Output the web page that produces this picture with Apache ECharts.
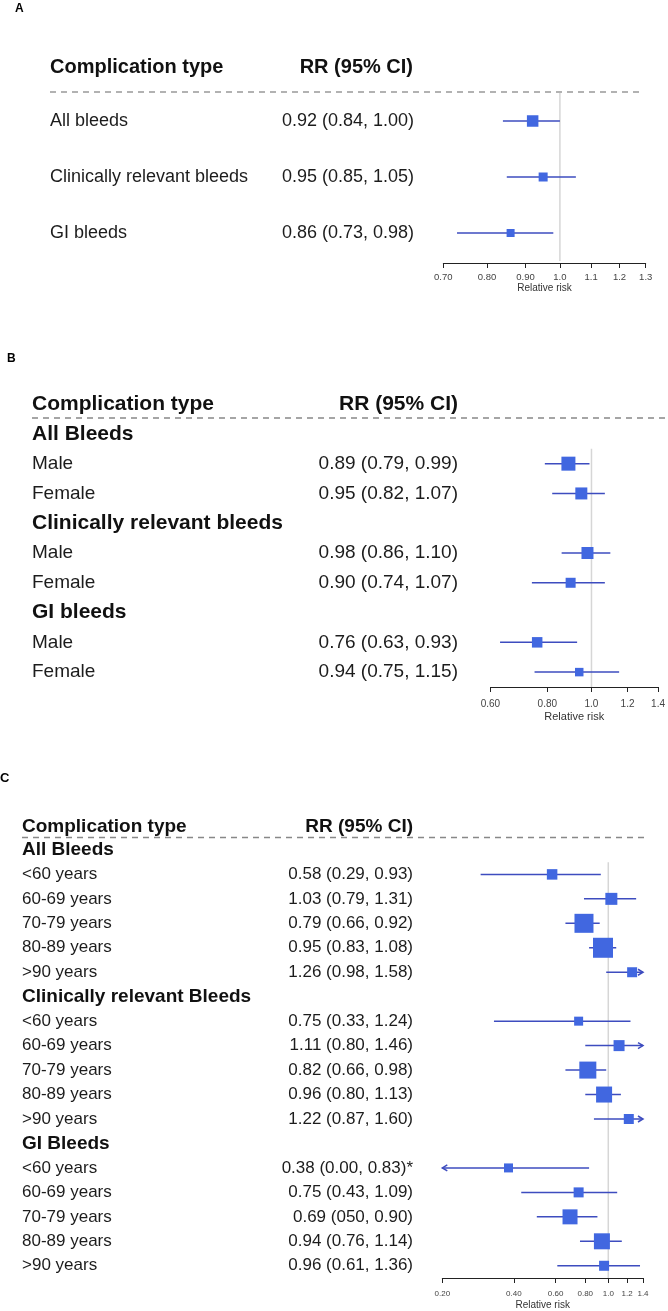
<!DOCTYPE html>
<html>
<head>
<meta charset="utf-8">
<script src="https://cdn.jsdelivr.net/npm/echarts@6/dist/echarts.min.js"></script>
<style>
html,body{margin:0;padding:0;background:#fff;}
#chart{width:668px;height:1311px;}
</style>
</head>
<body>
<div id="chart"></div>
<script>
// ---------------- Panel A ----------------
const aLabels = ['All bleeds', 'Clinically relevant bleeds', 'GI bleeds'];
const aHeader = [false, false, false];
const aText = ['0.92 (0.84, 1.00)', '0.95 (0.85, 1.05)', '0.86 (0.73, 0.98)'];
const aRR = [0.92, 0.95, 0.86];
const aLow = [0.84, 0.85, 0.73];
const aHigh = [1.00, 1.05, 0.98];
const aWeight = [11.5, 9, 8];
const aTicks = [0.7, 0.8, 0.9, 1.0, 1.1, 1.2, 1.3];
const aTickLabels = ['0.70', '0.80', '0.90', '1.0', '1.1', '1.2', '1.3'];

// ---------------- Panel B ----------------
const bLabels = ['All Bleeds', 'Male', 'Female', 'Clinically relevant bleeds', 'Male', 'Female', 'GI bleeds', 'Male', 'Female'];
const bHeader = [true, false, false, true, false, false, true, false, false];
const bText = ['', '0.89 (0.79, 0.99)', '0.95 (0.82, 1.07)', '', '0.98 (0.86, 1.10)', '0.90 (0.74, 1.07)', '', '0.76 (0.63, 0.93)', '0.94 (0.75, 1.15)'];
const bRR = [null, 0.89, 0.95, null, 0.98, 0.90, null, 0.76, 0.94];
const bLow = [null, 0.79, 0.82, null, 0.86, 0.74, null, 0.63, 0.75];
const bHigh = [null, 0.99, 1.07, null, 1.10, 1.07, null, 0.93, 1.15];
const bWeight = [null, 14, 12, null, 12, 10, null, 10.5, 8.5];
const bTicks = [0.6, 0.8, 1.0, 1.2, 1.4];
const bTickLabels = ['0.60', '0.80', '1.0', '1.2', '1.4'];

// ---------------- Panel C ----------------
const cLabels = ['All Bleeds', '<60 years', '60-69 years', '70-79 years', '80-89 years', '>90 years',
  'Clinically relevant Bleeds', '<60 years', '60-69 years', '70-79 years', '80-89 years', '>90 years',
  'GI Bleeds', '<60 years', '60-69 years', '70-79 years', '80-89 years', '>90 years'];
const cHeader = [true, false, false, false, false, false, true, false, false, false, false, false, true, false, false, false, false, false];
const cText = ['', '0.58 (0.29, 0.93)', '1.03 (0.79, 1.31)', '0.79 (0.66, 0.92)', '0.95 (0.83, 1.08)', '1.26 (0.98, 1.58)',
  '', '0.75 (0.33, 1.24)', '1.11 (0.80, 1.46)', '0.82 (0.66, 0.98)', '0.96 (0.80, 1.13)', '1.22 (0.87, 1.60)',
  '', '0.38 (0.00, 0.83)*', '0.75 (0.43, 1.09)', '0.69 (050, 0.90)', '0.94 (0.76, 1.14)', '0.96 (0.61, 1.36)'];
const cRR = [null, 0.58, 1.03, 0.79, 0.95, 1.26, null, 0.75, 1.11, 0.82, 0.96, 1.22, null, 0.38, 0.75, 0.69, 0.94, 0.96];
const cLow = [null, 0.29, 0.79, 0.66, 0.83, 0.98, null, 0.33, 0.80, 0.66, 0.80, 0.87, null, 0.00, 0.43, 0.50, 0.76, 0.61];
const cHigh = [null, 0.93, 1.31, 0.92, 1.08, 1.58, null, 1.24, 1.46, 0.98, 1.13, 1.60, null, 0.83, 1.09, 0.90, 1.14, 1.36];
const cWeight = [null, 10.5, 12, 19, 20, 10, null, 9, 11, 17, 16, 10, null, 9, 10, 15, 16, 10];
const cTicks = [0.2, 0.4, 0.6, 0.8, 1.0, 1.2, 1.4];
const cTickLabels = ['0.20', '0.40', '0.60', '0.80', '1.0', '1.2', '1.4'];

const headerTitles = ['Complication type', 'RR (95% CI)'];
const panelLetters = ['A', 'B', 'C'];

// ---------------- styling / layout ----------------
const FONT = '"Liberation Sans", Arial, Helvetica, sans-serif';
const LINE_COLOR = '#3d4cbf';
const MARK_COLOR = '#4167e0';
const REF_COLOR = '#d6d6d6';
const TEXT_COLOR = '#1c1c1c';

const panels = [
  { labels: aLabels, header: aHeader, text: aText, rr: aRR, lo: aLow, hi: aHigh, w: aWeight,
    ticks: aTicks, tickLabels: aTickLabels, min: 0.7, max: 1.3,
    grid: { left: 443.3, top: 93, width: 202.4, height: 168 }, axisOffset: 2,
    labelX: 50, rrRight: 414, rowFont: 18, headFont: 20,
    tickFont: 9.5, tickMargin: 9, nameFont: 10, nameGap: 18, refStart: -0.5 },
  { labels: bLabels, header: bHeader, text: bText, rr: bRR, lo: bLow, hi: bHigh, w: bWeight,
    ticks: bTicks, tickLabels: bTickLabels, min: 0.6, max: 1.4,
    grid: { left: 490.4, top: 419, width: 169.6, height: 268 }, axisOffset: 0,
    labelX: 32, rrRight: 458, rowFont: 19, headFont: 21,
    tickFont: 10, tickMargin: 12, nameFont: 11, nameGap: 24, refStart: 0.5 },
  { labels: cLabels, header: cHeader, text: cText, rr: cRR, lo: cLow, hi: cHigh, w: cWeight,
    ticks: cTicks, tickLabels: cTickLabels, min: 0.2, max: 1.4,
    grid: { left: 442.3, top: 837.7, width: 200.7, height: 441.3 }, axisOffset: 0,
    labelX: 22, rrRight: 413, rowFont: 17, headFont: 19,
    tickFont: 8, tickMargin: 12, nameFont: 10, nameGap: 22, refStart: 0.5 }
];

const grids = [], xAxes = [], yAxes = [], series = [];

function forestRenderer(axisMin, axisMax) {
  return function (params, api) {
    const row = api.value(0), est = api.value(1), lo = api.value(2), hi = api.value(3), w = api.value(4);
    const loC = Math.max(lo, axisMin), hiC = Math.min(hi, axisMax);
    const pLo = api.coord([loC, row]);
    const pHi = api.coord([hiC, row]);
    const pE = api.coord([est, row]);
    const lineStyle = { stroke: LINE_COLOR, lineWidth: 1.5, fill: null };
    const children = [{
      type: 'line', shape: { x1: pLo[0], y1: pLo[1], x2: pHi[0], y2: pHi[1] }, style: lineStyle
    }];
    if (lo < axisMin) {
      children.push({ type: 'polyline', shape: { points: [[pLo[0] + 5, pLo[1] - 3], [pLo[0], pLo[1]], [pLo[0] + 5, pLo[1] + 3]] }, style: lineStyle });
    }
    if (hi > axisMax) {
      children.push({ type: 'polyline', shape: { points: [[pHi[0] - 5, pHi[1] - 3], [pHi[0], pHi[1]], [pHi[0] - 5, pHi[1] + 3]] }, style: lineStyle });
    }
    children.push({
      type: 'rect', shape: { x: pE[0] - w / 2, y: pE[1] - w / 2, width: w, height: w },
      style: { fill: MARK_COLOR }
    });
    return { type: 'group', children: children };
  };
}

panels.forEach(function (p, i) {
  const n = p.labels.length;
  grids.push({ left: p.grid.left, top: p.grid.top, width: p.grid.width, height: p.grid.height, containLabel: false });
  xAxes.push({
    type: 'log', logBase: 10, gridIndex: i, min: p.min, max: p.max, offset: p.axisOffset,
    axisLine: { show: true, onZero: false, lineStyle: { color: '#222', width: 1 } },
    axisTick: { show: true, customValues: p.ticks, length: 5, lineStyle: { color: '#222', width: 1 } },
    axisLabel: {
      customValues: p.ticks, fontSize: p.tickFont, color: '#444', fontFamily: FONT, margin: p.tickMargin,
      formatter: function (v) {
        const k = p.ticks.findIndex(function (t) { return Math.abs(t - v) < 1e-6; });
        return k >= 0 ? p.tickLabels[k] : '';
      }
    },
    splitLine: { show: false },
    minorTick: { show: false },
    name: 'Relative risk', nameLocation: 'middle', nameGap: p.nameGap,
    nameTextStyle: { fontSize: p.nameFont, color: '#333', fontFamily: FONT }
  });
  const rich = {
    h: { fontSize: p.headFont, fontWeight: 'bold', color: '#111', fontFamily: FONT },
    r: { fontSize: p.rowFont, color: TEXT_COLOR, fontFamily: FONT }
  };
  // row names column
  yAxes.push({
    type: 'category', gridIndex: i, inverse: true, data: p.labels, position: 'left',
    axisLine: { show: false }, axisTick: { show: false }, splitLine: { show: false },
    axisLabel: {
      interval: 0, align: 'left', margin: p.grid.left - p.labelX, rich: rich,
      formatter: function (v, idx) { return (p.header[idx] ? '{h|' : '{r|') + p.labels[idx] + '}'; }
    }
  });
  // RR (95% CI) column
  yAxes.push({
    type: 'category', gridIndex: i, inverse: true, data: p.text, position: 'left',
    axisLine: { show: false }, axisTick: { show: false }, splitLine: { show: false },
    axisLabel: {
      interval: 0, align: 'right', margin: p.grid.left - p.rrRight, rich: rich,
      formatter: function (v, idx) { return p.text[idx] ? '{r|' + p.text[idx] + '}' : ''; }
    }
  });
  // row position axis for marks
  yAxes.push({
    type: 'value', gridIndex: i, inverse: true, min: -0.5, max: n - 0.5, show: false,
    axisLine: { onZero: false }, splitLine: { show: false }
  });

  const data = [];
  for (let r = 0; r < n; r++) {
    if (p.rr[r] !== null) data.push([r, p.rr[r], p.lo[r], p.hi[r], p.w[r]]);
  }
  series.push({
    type: 'line', xAxisIndex: i, yAxisIndex: 3 * i + 2, silent: true, symbol: 'none', z: 1,
    data: [[1.0, p.refStart], [1.0, n - 0.5]],
    lineStyle: { color: REF_COLOR, width: 1.5 }
  });
  series.push({
    type: 'custom', xAxisIndex: i, yAxisIndex: 3 * i + 2, z: 3, silent: true,
    dimensions: ['row', 'rr', 'lo', 'hi', 'w'],
    encode: { x: 1, y: 0 },
    renderItem: forestRenderer(p.min, p.max),
    data: data
  });
});

const graphics = [
  // panel letters
  { type: 'text', x: 15, y: 9, style: { text: panelLetters[0], font: 'bold 12px ' + FONT, fill: '#000', verticalAlign: 'middle' } },
  { type: 'text', x: 7, y: 359, style: { text: panelLetters[1], font: 'bold 12px ' + FONT, fill: '#000', verticalAlign: 'middle' } },
  { type: 'text', x: 0, y: 778, style: { text: panelLetters[2], font: 'bold 13px ' + FONT, fill: '#000', verticalAlign: 'middle' } },
  // headers A
  { type: 'text', x: 50, y: 67, style: { text: headerTitles[0], font: 'bold 20px ' + FONT, fill: '#111', verticalAlign: 'middle' } },
  { type: 'text', x: 413, y: 67, style: { text: headerTitles[1], font: 'bold 20px ' + FONT, fill: '#111', align: 'right', verticalAlign: 'middle' } },
  { type: 'line', shape: { x1: 50, y1: 92, x2: 643, y2: 92 }, style: { stroke: '#999', lineWidth: 1.5, lineDash: [6, 5] } },
  // headers B
  { type: 'text', x: 32, y: 404, style: { text: headerTitles[0], font: 'bold 21px ' + FONT, fill: '#111', verticalAlign: 'middle' } },
  { type: 'text', x: 458, y: 404, style: { text: headerTitles[1], font: 'bold 21px ' + FONT, fill: '#111', align: 'right', verticalAlign: 'middle' } },
  { type: 'line', shape: { x1: 32, y1: 418, x2: 668, y2: 418 }, style: { stroke: '#888', lineWidth: 1.3, lineDash: [6, 5] } },
  // headers C
  { type: 'text', x: 22, y: 826.5, style: { text: headerTitles[0], font: 'bold 19px ' + FONT, fill: '#111', verticalAlign: 'middle' } },
  { type: 'text', x: 413, y: 826.5, style: { text: headerTitles[1], font: 'bold 19px ' + FONT, fill: '#111', align: 'right', verticalAlign: 'middle' } },
  { type: 'line', shape: { x1: 22, y1: 837.5, x2: 646, y2: 837.5 }, style: { stroke: '#888', lineWidth: 1.3, lineDash: [6, 5] } }
];

const chart = echarts.init(document.getElementById('chart'), null, { renderer: 'canvas' });
chart.setOption({
  animation: false,
  backgroundColor: '#fff',
  grid: grids,
  xAxis: xAxes,
  yAxis: yAxes,
  series: series,
  graphic: graphics
});
</script>
</body>
</html>
